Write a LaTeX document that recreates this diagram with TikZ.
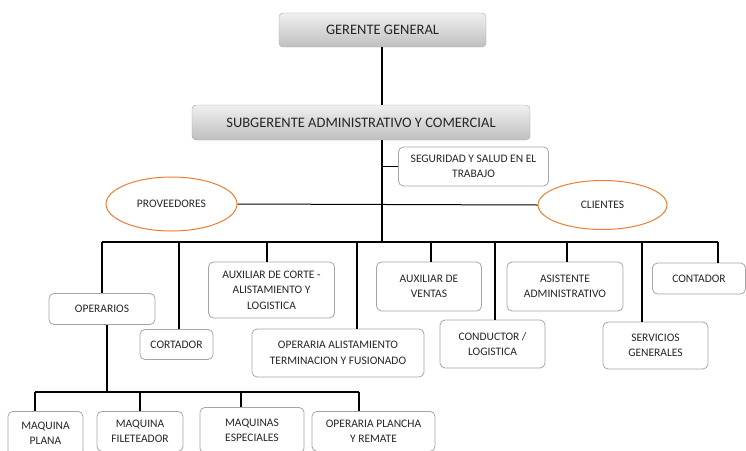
\documentclass[tikz,border=0pt]{standalone}
\usepackage{fontspec}
\setmainfont{Carlito}
\usetikzlibrary{shapes.geometric}
\usetikzlibrary{positioning}
\definecolor{boxline}{HTML}{A6A6A6}
\definecolor{ovalline}{HTML}{ED7D31}

\begin{document}
\begin{tikzpicture}[x=1pt,y=-1pt,
    head node/.style={rectangle,rounded corners=4pt,draw=boxline,top color=gray!12,bottom color=gray!50,
      inner sep=0pt,text=black!85,font=\fontsize{14.5}{16}\selectfont},
    main node/.style={rectangle,rounded corners=5pt,draw=boxline,fill=white,line width=0.8pt,
      inner sep=0pt,align=center,text=black!85,font=\fontsize{11.5}{15.5}\selectfont},
    oval node/.style={ellipse,draw=ovalline,fill=white,line width=1pt,inner sep=0pt,text=black!85,font=\fontsize{11.5}{13}\selectfont},
    link/.style={-,line width=1.3pt,black}]
  \useasboundingbox (0,0) rectangle (746,450);
  \clip (0,0) rectangle (746,450);

  % direccion
  \node[head node,minimum width=207pt,minimum height=34pt] (gg) at (382.5,30) {GERENTE GENERAL};
  \node[head node,minimum width=338pt,minimum height=35pt] (sub) at (361,122.5) {SUBGERENTE ADMINISTRATIVO Y COMERCIAL};
  \node[main node,minimum width=150pt,minimum height=39pt] (seg) at (473.5,166.5) {SEGURIDAD Y SALUD EN EL\\TRABAJO};
  \node[oval node,minimum width=131pt,minimum height=54pt] (prov) at (171.5,204) {PROVEEDORES};
  \node[oval node,minimum width=129pt,minimum height=49pt] (cli) at (602.5,205) {CLIENTES};

  % areas
  \node[main node,minimum width=106pt,minimum height=31pt] (op) at (102,309) {OPERARIOS};
  \node[main node,minimum width=73pt,minimum height=30pt] (cort) at (176.5,344.5) {CORTADOR};
  \node[main node,minimum width=126pt,minimum height=56pt] (auxc) at (271.5,290) {AUXILIAR DE CORTE -\\ALISTAMIENTO Y\\LOGISTICA};
  \node[main node,minimum width=172pt,minimum height=48pt] (opal) at (338,353) {OPERARIA ALISTAMIENTO\\TERMINACION Y FUSIONADO};
  \node[main node,minimum width=105pt,minimum height=49pt] (auxv) at (429,286.5) {AUXILIAR DE\\VENTAS};
  \node[main node,minimum width=105pt,minimum height=48pt] (cond) at (492.5,344) {CONDUCTOR /\\LOGISTICA};
  \node[main node,minimum width=116pt,minimum height=49pt] (asis) at (565,286.5) {ASISTENTE\\ADMINISTRATIVO};
  \node[main node,minimum width=105pt,minimum height=47pt] (serv) at (655.5,345.5) {SERVICIOS\\GENERALES};
  \node[main node,minimum width=93pt,minimum height=31pt] (cont) at (699,278.5) {CONTADOR};

  % operarios
  \node[main node,anchor=north,minimum width=75pt,minimum height=44pt] (mp) at (45.5,411) {MAQUINA\\PLANA};
  \node[main node,anchor=north,minimum width=86pt,minimum height=40pt] (mf) at (140,411) {MAQUINA\\FILETEADOR};
  \node[main node,anchor=north,minimum width=104pt,minimum height=46pt] (me) at (252,407) {MAQUINAS\\ESPECIALES};
  \node[main node,anchor=north,minimum width=123pt,minimum height=40pt] (mo) at (373.5,411) {OPERARIA PLANCHA\\Y REMATE};

  % barras
  \coordinate (t1) at (382,242);
  \coordinate (b1) at (102,242);
  \coordinate (b2) at (179,242);
  \coordinate (b3) at (267,242);
  \coordinate (b4) at (357,242);
  \coordinate (b5) at (431,242);
  \coordinate (b6) at (495,242);
  \coordinate (b7) at (567,242);
  \coordinate (b8) at (642,242);
  \coordinate (b9) at (718,242);
  \coordinate (s0) at (107,392);
  \coordinate (s1) at (35,392);
  \coordinate (s2) at (140,392);
  \coordinate (s3) at (241,392);
  \coordinate (s4) at (359,392);

  \path[link] (gg.south -| t1) edge (sub.north -| t1);
  \path[link] (sub.south -| t1) edge (t1);
  \path[link] (seg.west -| t1) edge (seg.west);
  \path[link,line width=1pt] (prov.east) edge (cli.west);
  \path[link] (b1) edge (b9);
  \foreach \b/\n in {b1/op,b2/cort,b3/auxc,b4/opal,b5/auxv,b6/cond,b7/asis,b8/serv,b9/cont}
    \path[link] (\b) edge (\b |- \n.north);
  \path[link] (op.south -| s0) edge (s0);
  \path[link] (s1) edge (s4);
  \foreach \b/\n in {s1/mp,s2/mf,s3/me,s4/mo}
    \path[link] (\b) edge (\b |- \n.north);
\end{tikzpicture}
\end{document}
